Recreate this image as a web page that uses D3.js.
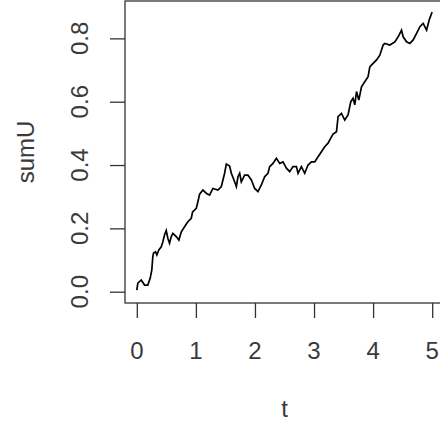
<!DOCTYPE html>
<html>
<head>
<meta charset="utf-8">
<script src="https://cdn.jsdelivr.net/npm/d3@7"></script>
<style>
  body { margin: 0; background: #fff; }
  svg { display: block; }
</style>
</head>
<body>
<div id="chart"></div>
<script>
// values
const tVals = [0.000, 0.017, 0.075, 0.131, 0.186, 0.227, 0.254, 0.271, 0.283, 0.317,
    0.339, 0.373, 0.414, 0.441, 0.469, 0.498, 0.525, 0.554, 0.583, 0.610,
    0.668, 0.712, 0.753, 0.808, 0.864, 0.922, 0.944, 1.007, 1.034, 1.063,
    1.119, 1.176, 1.232, 1.288, 1.373, 1.431, 1.486, 1.515, 1.571, 1.600,
    1.656, 1.685, 1.712, 1.741, 1.769, 1.825, 1.881, 1.939, 1.995, 2.051,
    2.108, 2.164, 2.220, 2.249, 2.305, 2.363, 2.419, 2.475, 2.532, 2.588,
    2.644, 2.702, 2.729, 2.786, 2.842, 2.898, 2.956, 3.012, 3.068, 3.125,
    3.181, 3.237, 3.295, 3.322, 3.380, 3.407, 3.464, 3.520, 3.576, 3.622,
    3.661, 3.690, 3.719, 3.758, 3.803, 3.859, 3.915, 3.944, 4.000, 4.058,
    4.114, 4.169, 4.198, 4.283, 4.368, 4.424, 4.481, 4.508, 4.566, 4.622,
    4.678, 4.736, 4.792, 4.847, 4.905, 4.949, 4.990, 5.000];
const sumU = [0.005, 0.027, 0.037, 0.021, 0.021, 0.043, 0.069, 0.111, 0.122, 0.126,
    0.116, 0.132, 0.142, 0.158, 0.179, 0.193, 0.169, 0.153, 0.174, 0.184,
    0.174, 0.163, 0.189, 0.205, 0.221, 0.232, 0.252, 0.263, 0.284, 0.308,
    0.321, 0.311, 0.305, 0.326, 0.321, 0.332, 0.374, 0.403, 0.397, 0.374,
    0.347, 0.332, 0.363, 0.374, 0.347, 0.368, 0.368, 0.353, 0.326, 0.316,
    0.337, 0.363, 0.374, 0.395, 0.405, 0.421, 0.405, 0.410, 0.390, 0.379,
    0.395, 0.395, 0.374, 0.395, 0.374, 0.400, 0.410, 0.410, 0.426, 0.442,
    0.458, 0.469, 0.489, 0.498, 0.505, 0.553, 0.563, 0.542, 0.558, 0.600,
    0.611, 0.590, 0.632, 0.605, 0.647, 0.663, 0.679, 0.710, 0.721, 0.732,
    0.747, 0.779, 0.784, 0.779, 0.789, 0.805, 0.826, 0.805, 0.789, 0.784,
    0.795, 0.816, 0.837, 0.847, 0.826, 0.858, 0.879, 0.883];
const xTicks = [0, 1, 2, 3, 4, 5];
const yTicks = [0.0, 0.2, 0.4, 0.6, 0.8];

const W = 440, H = 430;
const boxL = 125, boxT = 1, boxB = 303, boxR = 444;
const font = "Liberation Sans, Arial, Helvetica, sans-serif";

const data = tVals.map((t, i) => ({ t: t, u: sumU[i] }));

const svg = d3.select("#chart").append("svg")
    .attr("width", W)
    .attr("height", H);

// R style: axis range extended 4% beyond the data
const x = d3.scaleLinear().domain([-0.2, 5.2]).range([boxL, boxR]);
const y = d3.scaleLinear().domain([-0.0357, 0.918]).range([boxB, boxT]);

// the curve
svg.append("path")
    .datum(data)
    .attr("fill", "none")
    .attr("stroke", "#000")
    .attr("stroke-width", 1.7)
    .attr("stroke-linejoin", "miter")
    .attr("d", d3.line().x(d => x(d.t)).y(d => y(d.u)));

// box
svg.append("rect")
    .attr("x", boxL)
    .attr("y", boxT)
    .attr("width", boxR - boxL)
    .attr("height", boxB - boxT)
    .attr("fill", "none")
    .attr("stroke", "#333")
    .attr("stroke-width", 1.3);

// X axis
const gx = svg.append("g")
    .attr("transform", `translate(0,${boxB})`)
    .call(d3.axisBottom(x).tickValues(xTicks).tickSize(15).tickFormat(""));
gx.select(".domain").remove();
gx.selectAll("line").attr("stroke", "#333").attr("stroke-width", 1.3);

svg.append("g")
    .selectAll("text")
    .data(xTicks)
    .join("text")
    .attr("x", d => x(d))
    .attr("y", 350)
    .attr("dy", "0.36em")
    .attr("text-anchor", "middle")
    .attr("style", `font-size: 24px; font-family: ${font}`)
    .attr("fill", "#3a3a3a")
    .text(d => d);

// Y axis
const gy = svg.append("g")
    .attr("transform", `translate(${boxL},0)`)
    .call(d3.axisLeft(y).tickValues(yTicks).tickSize(15).tickFormat(""));
gy.select(".domain").remove();
gy.selectAll("line").attr("stroke", "#333").attr("stroke-width", 1.3);

svg.append("g")
    .selectAll("text")
    .data(yTicks)
    .join("text")
    .attr("transform", d => `translate(79,${y(d)}) rotate(-90)`)
    .attr("dy", "0.36em")
    .attr("text-anchor", "middle")
    .attr("style", `font-size: 24px; font-family: ${font}`)
    .attr("fill", "#3a3a3a")
    .text(d => d.toFixed(1));

// axis titles
svg.append("text")
    .attr("x", x(2.5))
    .attr("y", 408)
    .attr("dy", "0.36em")
    .attr("text-anchor", "middle")
    .attr("style", `font-size: 24px; font-family: ${font}`)
    .attr("fill", "#3a3a3a")
    .text("t");

svg.append("text")
    .attr("transform", `translate(25,${(boxT + boxB) / 2}) rotate(-90)`)
    .attr("dy", "0.36em")
    .attr("text-anchor", "middle")
    .attr("style", `font-size: 24px; font-family: ${font}`)
    .attr("fill", "#3a3a3a")
    .text("sumU");
</script>
</body>
</html>
